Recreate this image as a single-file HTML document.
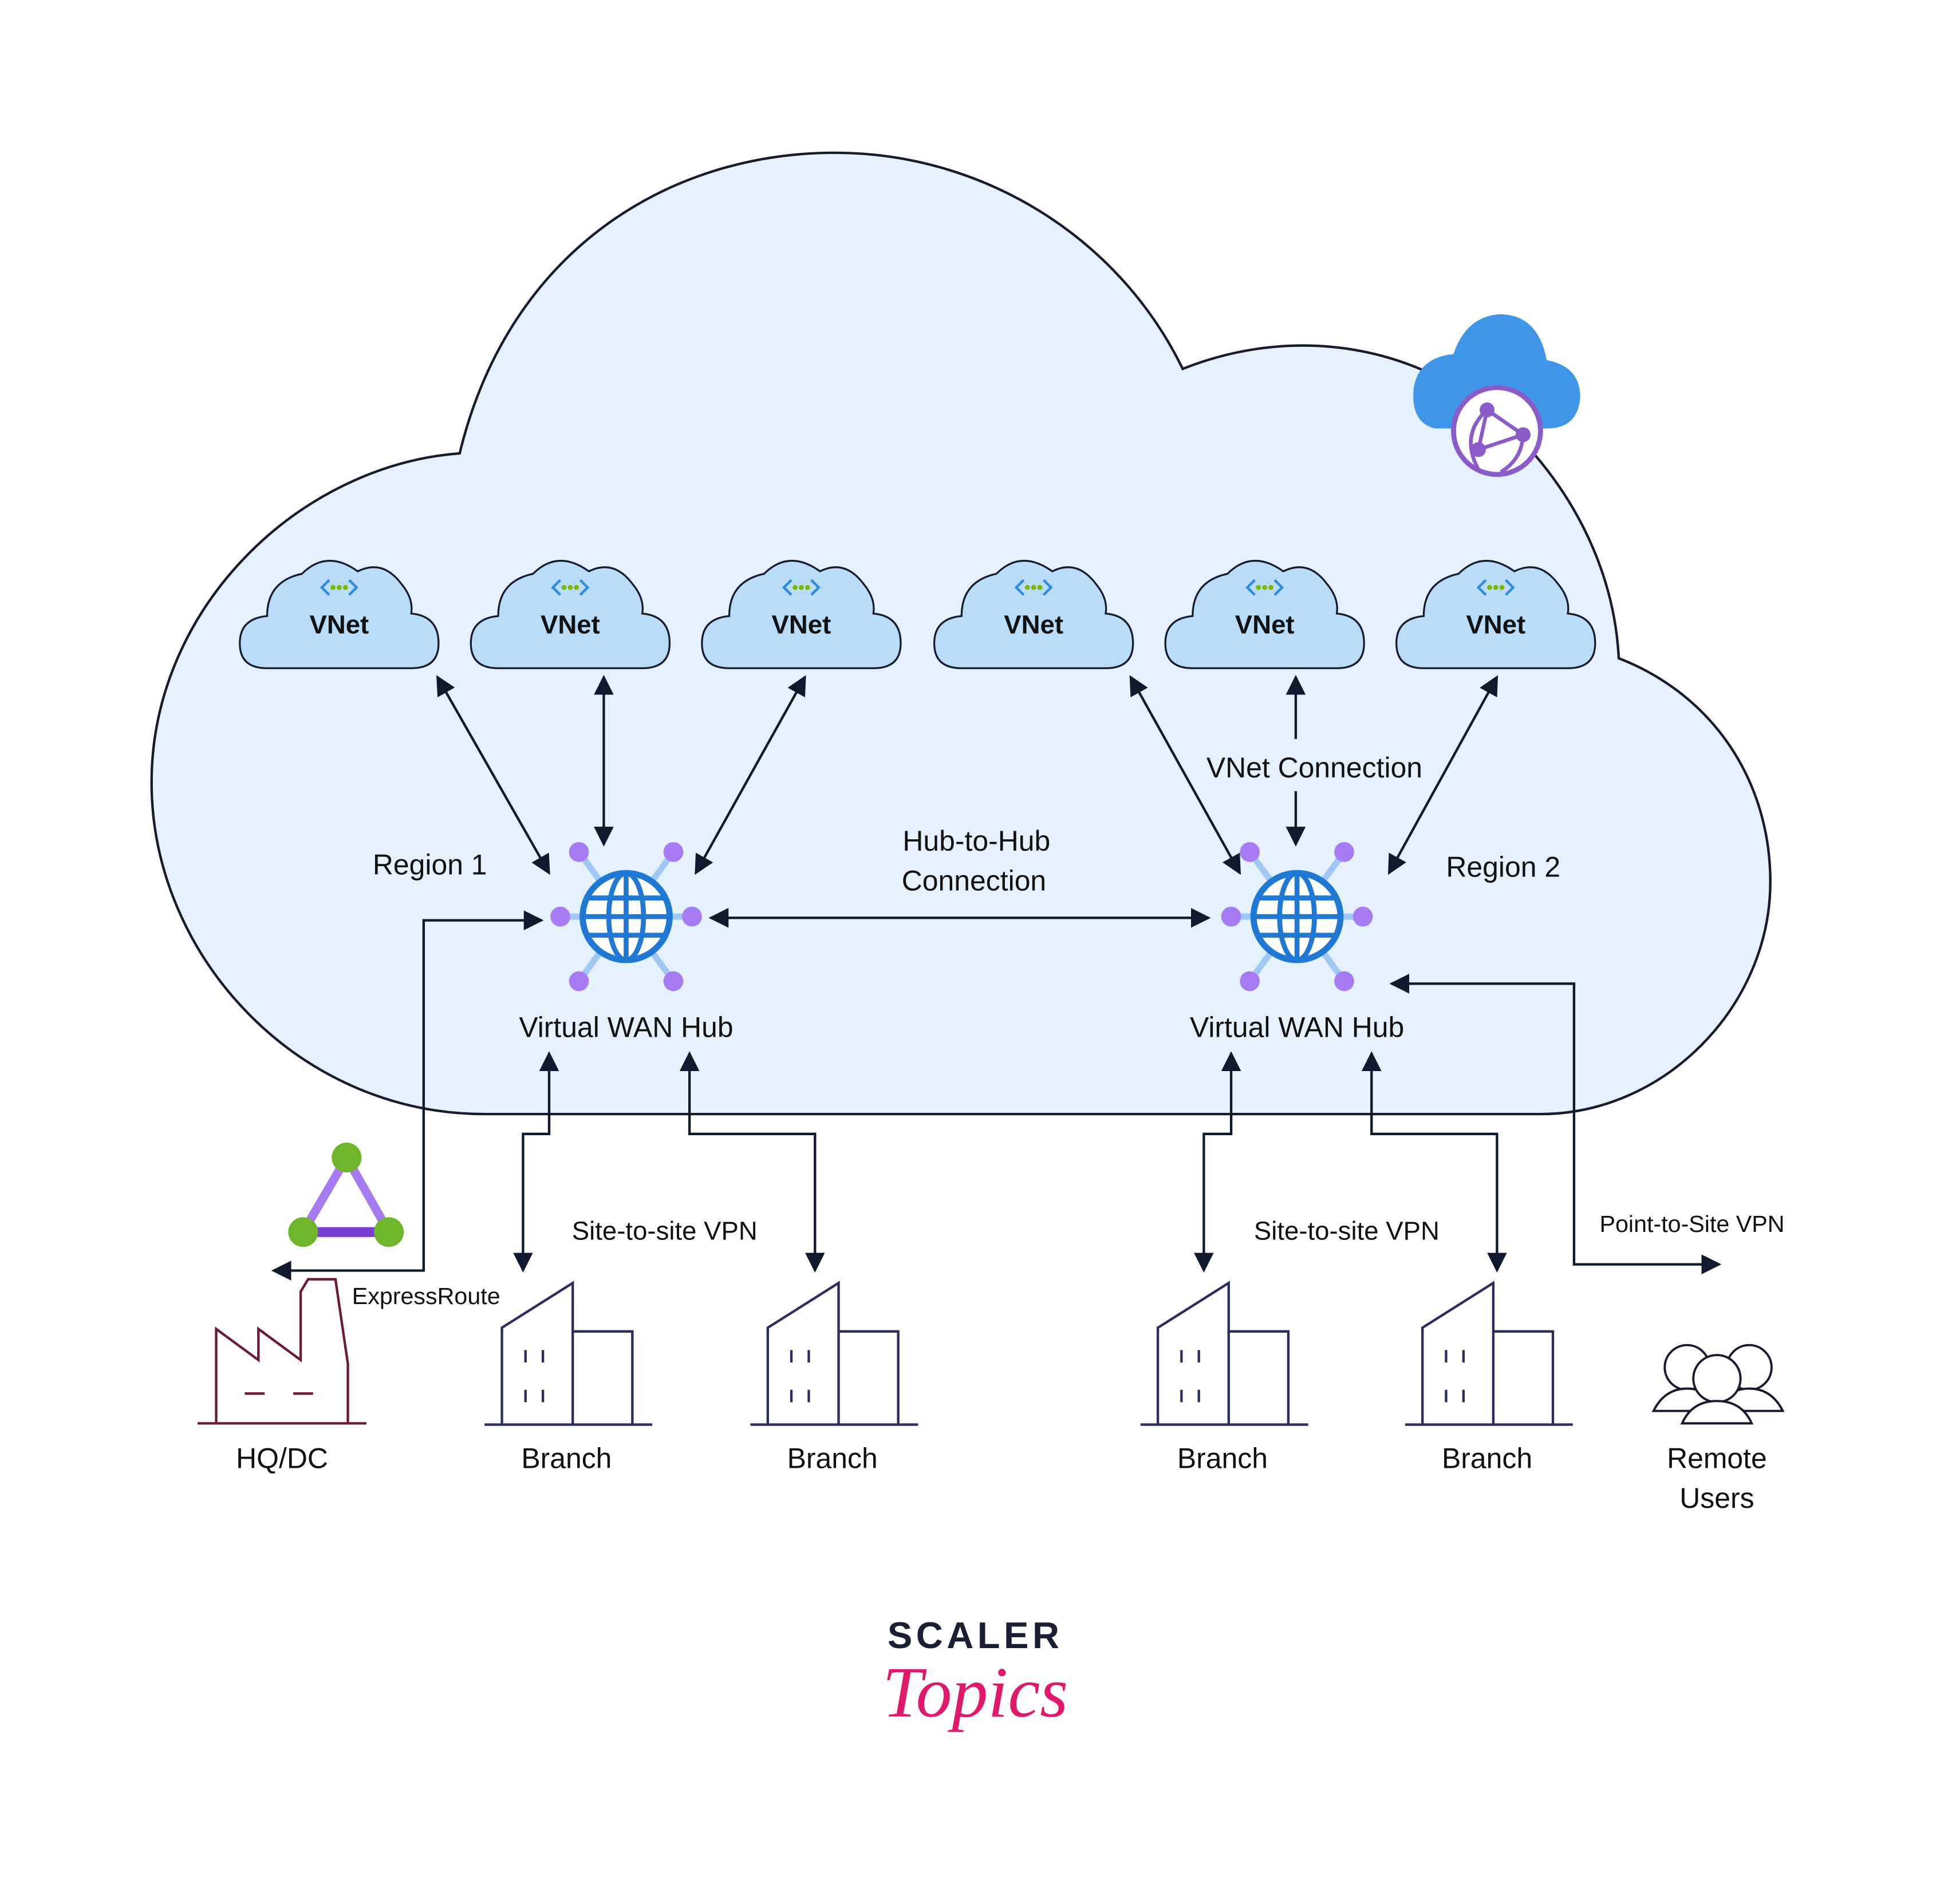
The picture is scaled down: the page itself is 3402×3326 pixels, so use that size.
<!DOCTYPE html>
<html><head><meta charset="utf-8"><style>
html,body{margin:0;padding:0;background:#fff;}
svg{display:block;}
text{font-family:"Liberation Sans",sans-serif;fill:#111;}
</style></head><body>
<svg width="3402" height="3326" viewBox="0 0 1568 1533" xmlns="http://www.w3.org/2000/svg">
<defs>
<marker id="b" viewBox="0 0 10 10" refX="9" refY="5" markerWidth="16" markerHeight="16" orient="auto-start-reverse" markerUnits="userSpaceOnUse"><path d="M0,0 L10,5 L0,10 z" fill="#0f1a2e"/></marker>
<g id="vnet">
<path d="M-58,48 Q-80,48 -80,28 Q-80,8 -58,6 Q-58,-22 -30,-28 Q-10,-48 15,-30 Q35,-40 50,-20 Q60,-8 58,4 Q80,6 80,28 Q80,48 58,48 Z" fill="#b9dcf8" stroke="#1a1a2e" stroke-width="1.5"/>
<text x="0" y="20" text-anchor="middle" font-size="21" font-weight="bold">VNet</text>
<path d="M-8,-23 l-6,6 l6,6 M8,-23 l6,6 l-6,6" stroke="#2a8be0" stroke-width="2" fill="none"/>
<circle cx="-5" cy="-17" r="2" fill="#7ab800"/><circle cx="0" cy="-17" r="2" fill="#7ab800"/><circle cx="5" cy="-17" r="2" fill="#7ab800"/>
</g>
<g id="hub">
<g stroke="#9fc8f4" stroke-width="5">
<line x1="-38" y1="-52" x2="38" y2="52"/><line x1="38" y1="-52" x2="-38" y2="52"/><line x1="-52" y1="0" x2="52" y2="0"/>
</g>
<g fill="#a77cf2"><circle cx="-38" cy="-52" r="8"/><circle cx="38" cy="-52" r="8"/><circle cx="-38" cy="52" r="8"/><circle cx="38" cy="52" r="8"/><circle cx="-53" cy="0" r="8"/><circle cx="53" cy="0" r="8"/></g>
<circle r="35" fill="#fff" stroke="#1e78d4" stroke-width="5"/>
<g stroke="#1e78d4" stroke-width="4" fill="none">
<ellipse rx="14" ry="35"/><line x1="0" y1="-35" x2="0" y2="35"/><line x1="-35" y1="0" x2="35" y2="0"/><line x1="-31" y1="-15" x2="31" y2="-15"/><line x1="-31" y1="15" x2="31" y2="15"/>
</g>
</g>
<g id="bld" stroke="#2b2d5e" stroke-width="2" fill="none">
<line x1="-67" y1="0" x2="68" y2="0"/>
<path d="M-53,0 V-78 L4,-114 V0"/>
<path d="M4,-75 H52 V0"/>
<path d="M-34,-60 v10 M-20,-60 v10 M-34,-28 v10 M-20,-28 v10"/>
</g>
</defs>

<path d="M370,365 C410,200 540,123 672,123 C790,123 900,190 952,297 C1050,258 1160,280 1230,360 C1275,410 1300,470 1303,530 C1380,560 1425,630 1425,710 C1425,810 1340,897 1240,897 L390,897 C240,897 122,770 122,630 C122,490 240,375 370,365 Z" fill="#e5f2fd" stroke="#1a1a2e" stroke-width="2"/>

<path d="M1155,345 Q1135,340 1138,312 Q1142,288 1170,285 Q1180,255 1207,253 Q1238,253 1245,290 Q1272,295 1272,320 Q1270,345 1245,345 Z" fill="#3f95e8"/>
<circle cx="1205" cy="347" r="35" fill="#fff" stroke="#8a5bc9" stroke-width="4"/>
<g stroke="#8a5bc9" stroke-width="3" fill="none"><path d="M1197,330 L1226,350 L1190,362 Z"/><path d="M1197,330 Q1175,350 1190,378 M1226,350 Q1225,370 1208,380"/></g>
<g fill="#8a5bc9"><circle cx="1197" cy="330" r="6"/><circle cx="1226" cy="350" r="6"/><circle cx="1190" cy="362" r="6"/></g>

<use href="#vnet" x="273" y="490"/><use href="#vnet" x="459" y="490"/><use href="#vnet" x="645" y="490"/>
<use href="#vnet" x="832" y="490"/><use href="#vnet" x="1018" y="490"/><use href="#vnet" x="1204" y="490"/>

<use href="#hub" x="504" y="738"/><use href="#hub" x="1044" y="738"/>

<g stroke="#0f1a2e" stroke-width="2" fill="none">
<line x1="352" y1="545" x2="442" y2="703" marker-start="url(#b)" marker-end="url(#b)"/>
<line x1="486" y1="545" x2="486" y2="680" marker-start="url(#b)" marker-end="url(#b)"/>
<line x1="648" y1="545" x2="560" y2="703" marker-start="url(#b)" marker-end="url(#b)"/>
<line x1="910" y1="545" x2="998" y2="703" marker-start="url(#b)" marker-end="url(#b)"/>
<line x1="1043" y1="595" x2="1043" y2="545" marker-end="url(#b)"/>
<line x1="1043" y1="637" x2="1043" y2="680" marker-end="url(#b)"/>
<line x1="1205" y1="545" x2="1118" y2="703" marker-start="url(#b)" marker-end="url(#b)"/>
<line x1="572" y1="739" x2="973" y2="739" marker-start="url(#b)" marker-end="url(#b)"/>
<polyline points="436,741 341,741 341,1023 220,1023" marker-start="url(#b)" marker-end="url(#b)"/>
<polyline points="442,848 442,913 421,913 421,1023" marker-start="url(#b)" marker-end="url(#b)"/>
<polyline points="555,848 555,913 656,913 656,1023" marker-start="url(#b)" marker-end="url(#b)"/>
<polyline points="991,848 991,913 969,913 969,1023" marker-start="url(#b)" marker-end="url(#b)"/>
<polyline points="1104,848 1104,913 1205,913 1205,1023" marker-start="url(#b)" marker-end="url(#b)"/>
<polyline points="1120,792 1267,792 1267,1018 1384,1018" marker-start="url(#b)" marker-end="url(#b)"/>
</g>

<g stroke="#a57bf0" stroke-width="7"><line x1="279" y1="932" x2="244" y2="992"/><line x1="279" y1="932" x2="313" y2="992"/></g>
<line x1="244" y1="992" x2="313" y2="992" stroke="#7a3fd6" stroke-width="8"/>
<g fill="#6fb52c"><circle cx="279" cy="932" r="12"/><circle cx="244" cy="992" r="12"/><circle cx="313" cy="992" r="12"/></g>

<g stroke="#6b1a3a" stroke-width="2" fill="none">
<line x1="159" y1="1146" x2="295" y2="1146"/>
<path d="M174,1146 V1070 L208,1095 V1070 L242,1095 V1040 L248,1030 H270 L280,1098 V1146"/>
<path d="M197,1122 h16 M236,1122 h16"/>
</g>

<use href="#bld" x="457" y="1147"/><use href="#bld" x="671" y="1147"/><use href="#bld" x="985" y="1147"/><use href="#bld" x="1198" y="1147"/>

<g stroke="#1a1a2e" stroke-width="1.8" fill="#fff">
<circle cx="1358" cy="1101" r="18"/><path d="M1331,1136 Q1340,1118 1358,1118 Q1376,1118 1385,1136 Z"/>
<circle cx="1408" cy="1101" r="18"/><path d="M1381,1136 Q1390,1118 1408,1118 Q1426,1118 1435,1136 Z"/>
<circle cx="1382" cy="1110" r="19"/><path d="M1354,1146 Q1362,1128 1382,1128 Q1402,1128 1410,1146 Z"/>
</g>

<g font-size="23">
<text x="346" y="704" text-anchor="middle">Region 1</text>
<text x="1210" y="706" text-anchor="middle">Region 2</text>
<text x="786" y="685" text-anchor="middle">Hub-to-Hub</text>
<text x="784" y="717" text-anchor="middle">Connection</text>
<text x="1058" y="626" text-anchor="middle">VNet Connection</text>
<text x="504" y="835" text-anchor="middle">Virtual WAN Hub</text>
<text x="1044" y="835" text-anchor="middle">Virtual WAN Hub</text>
<text x="535" y="998" text-anchor="middle" font-size="21">Site-to-site VPN</text>
<text x="1084" y="998" text-anchor="middle" font-size="21">Site-to-site VPN</text>
<text x="227" y="1182" text-anchor="middle">HQ/DC</text>
<text x="456" y="1182" text-anchor="middle">Branch</text>
<text x="670" y="1182" text-anchor="middle">Branch</text>
<text x="984" y="1182" text-anchor="middle">Branch</text>
<text x="1197" y="1182" text-anchor="middle">Branch</text>
<text x="1382" y="1182" text-anchor="middle">Remote</text>
<text x="1382" y="1214" text-anchor="middle">Users</text>
</g>
<text x="1362" y="992" text-anchor="middle" font-size="19">Point-to-Site VPN</text>
<text x="343" y="1050" text-anchor="middle" font-size="19">ExpressRoute</text>

<text x="785" y="1327" text-anchor="middle" font-size="30" font-weight="bold" letter-spacing="3" style="fill:#1a1f36">SCALER</text>
<text x="785" y="1382" text-anchor="middle" font-size="58" font-style="italic" style="fill:#e0196c;font-family:'Liberation Serif',serif">Topics</text>
</svg>
</body></html>
